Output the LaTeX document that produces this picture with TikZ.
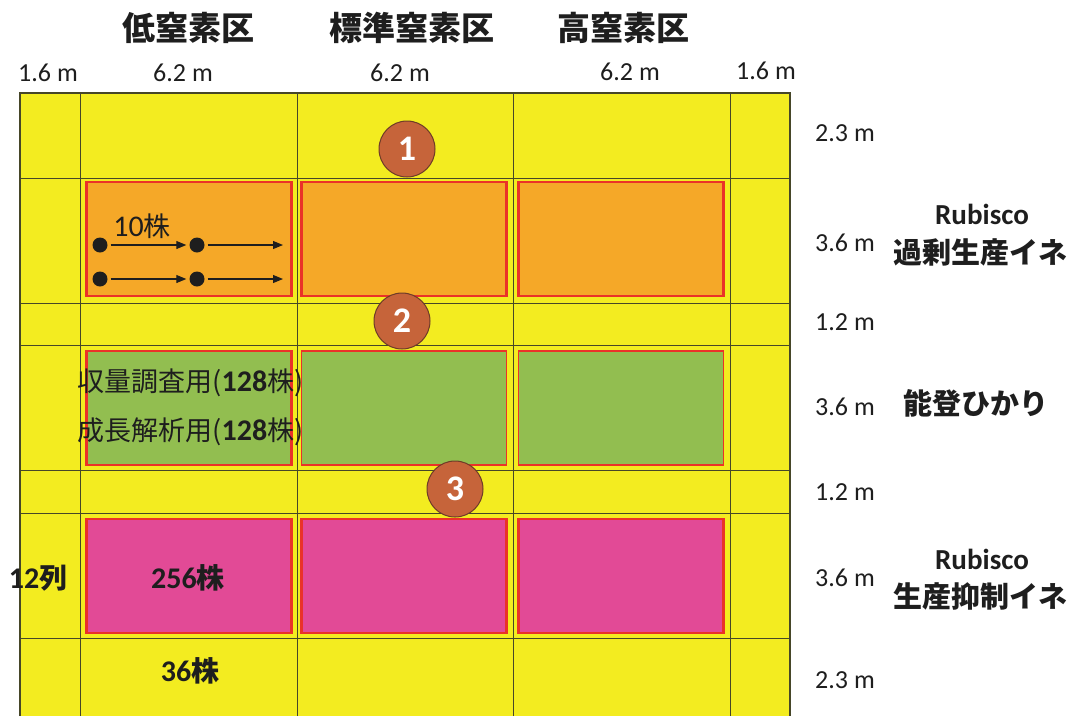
\documentclass[tikz,border=0pt]{standalone}
\usepackage{fontspec}
\setmainfont{Carlito}
\newfontfamily\jp{Noto Sans CJK JP}
\usetikzlibrary{arrows.meta}
\definecolor{fieldyellow}{RGB}{243,236,32}
\definecolor{plotorange}{RGB}{245,168,40}
\definecolor{plotgreen}{RGB}{146,190,80}
\definecolor{plotmagenta}{RGB}{226,74,150}
\definecolor{plotred}{RGB}{234,50,40}
\definecolor{gridline}{RGB}{70,70,40}
\definecolor{badge}{RGB}{198,100,58}
\definecolor{badgeedge}{RGB}{110,60,40}
\definecolor{ink}{RGB}{30,30,30}
\tikzset{
  plotbox/.style={draw=plotred, line width=2.6pt, minimum width=205pt, minimum height=114pt, inner sep=0pt},
  badgenode/.style={circle, fill=badge, draw=badgeedge, line width=1pt, minimum size=56pt, inner sep=0pt, text=white, font=\fontsize{36}{36}\selectfont\bfseries},
  header/.style={font=\jp\bfseries\fontsize{33}{35}\selectfont, text=ink},
  dim/.style={font=\fontsize{26}{28}\selectfont, text=ink},
  side/.style={font=\jp\bfseries\fontsize{29}{32}\selectfont, text=ink, inner sep=1pt},
  sidelatin/.style={font=\bfseries\fontsize{29}{30}\selectfont, text=ink, inner sep=1pt},
  dot/.style={circle, fill=ink, minimum size=15pt, inner sep=0pt},
  flow/.style={-{Triangle[length=10pt,width=8pt]}, line width=1.1pt, draw=ink},
  cell/.style={font=\jp\fontsize{27}{30}\selectfont, text=ink},
  cellb/.style={font=\jp\bfseries\fontsize{28}{30}\selectfont, text=ink},
}
\newcommand{\cb}[1]{{\fontspec{Carlito}\bfseries\fontsize{30}{30}\selectfont #1}}
\newcommand{\cn}[1]{{\fontspec{Carlito}\fontsize{30}{30}\selectfont #1}}
\begin{document}
\begin{tikzpicture}[x=1pt,y=-1pt]
\useasboundingbox (0,0) rectangle (1070,716);
\fill[white] (0,0) rectangle (1070,716);
% field
\fill[fieldyellow] (20,93) rectangle (790,716);
\foreach \x in {80,297,513,730} \draw[gridline, line width=0.9pt] (\x,93) -- (\x,716);
\foreach \y in {178,303,345,470,513,638} \draw[gridline, line width=0.9pt] (20,\y) -- (790,\y);
\draw[gridline, line width=1.2pt] (20,716) -- (20,93) -- (790,93) -- (790,716);
% plots
\node[plotbox, fill=plotorange] (o1) at (189,239) {};
\node[plotbox, fill=plotorange] (o2) at (404,239) {};
\node[plotbox, fill=plotorange] (o3) at (621,239) {};
\node[plotbox, fill=plotgreen] (g1) at (189,408) {};
\node[plotbox, fill=plotgreen, line width=1.6pt] (g2) at (404,408) {};
\node[plotbox, fill=plotgreen, line width=1.6pt] (g3) at (621,408) {};
\node[plotbox, fill=plotmagenta] (m1) at (189,576) {};
\node[plotbox, fill=plotmagenta] (m2) at (404,576) {};
\node[plotbox, fill=plotmagenta] (m3) at (621,576) {};
% badges
\node[badgenode] (b1) at (407,149) {1};
\node[badgenode] (b2) at (402,321) {2};
\node[badgenode] (b3) at (455,489) {3};
% headers
\node[header] (h1) at (188,28) {低窒素区};
\node[header] (h2) at (412,28) {標準窒素区};
\node[header] (h3) at (623,28) {高窒素区};
% column widths
\node[dim] (c1) at (48,73) {1.6 m};
\node[dim] (c2) at (183,73) {6.2 m};
\node[dim] (c3) at (400,73) {6.2 m};
\node[dim] (c4) at (630,72) {6.2 m};
\node[dim] (c5) at (766,71) {1.6 m};
% row heights
\node[dim] (r1) at (845,133) {2.3 m};
\node[dim] (r2) at (845,243) {3.6 m};
\node[dim] (r3) at (845,322) {1.2 m};
\node[dim] (r4) at (845,407) {3.6 m};
\node[dim] (r5) at (845,492) {1.2 m};
\node[dim] (r6) at (845,578) {3.6 m};
\node[dim] (r7) at (845,680) {2.3 m};
% side labels
\node[sidelatin] (s1a) at (982,214) {Rubisco};
\node[side] (s1b) at (980,252) {過剰生産イネ};
\node[side] (s2) at (976,403) {能登ひかり};
\node[sidelatin] (s3a) at (982,559) {Rubisco};
\node[side] (s3b) at (980,596) {生産抑制イネ};
% planting scheme
\node[cell] (n10) at (142,226) {\cn{10}株};
\node[dot] (d1) at (100,245) {};
\node[dot] (d2) at (197,245) {};
\node[dot] (d3) at (100,279) {};
\node[dot] (d4) at (197,279) {};
\coordinate (e1) at (283,245);
\coordinate (e2) at (283,279);
\draw[flow, shorten <=3pt, shorten >=3pt] (d1) -- (d2);
\draw[flow, shorten <=3pt] (d2) -- (e1);
\draw[flow, shorten <=3pt, shorten >=3pt] (d3) -- (d4);
\draw[flow, shorten <=3pt] (d4) -- (e2);
\node[cell, anchor=west] (t1) at (74,383) {収量調査用(\cb{128}株)};
\node[cell, anchor=west] (t2) at (74,432) {成長解析用(\cb{128}株)};
\node[cellb] (t3) at (188,578) {\cb{256}株};
\node[cellb] (t4) at (38,578) {\cb{12}列};
\node[cellb] (t5) at (190,671) {\cb{36}株};
\end{tikzpicture}
\end{document}
